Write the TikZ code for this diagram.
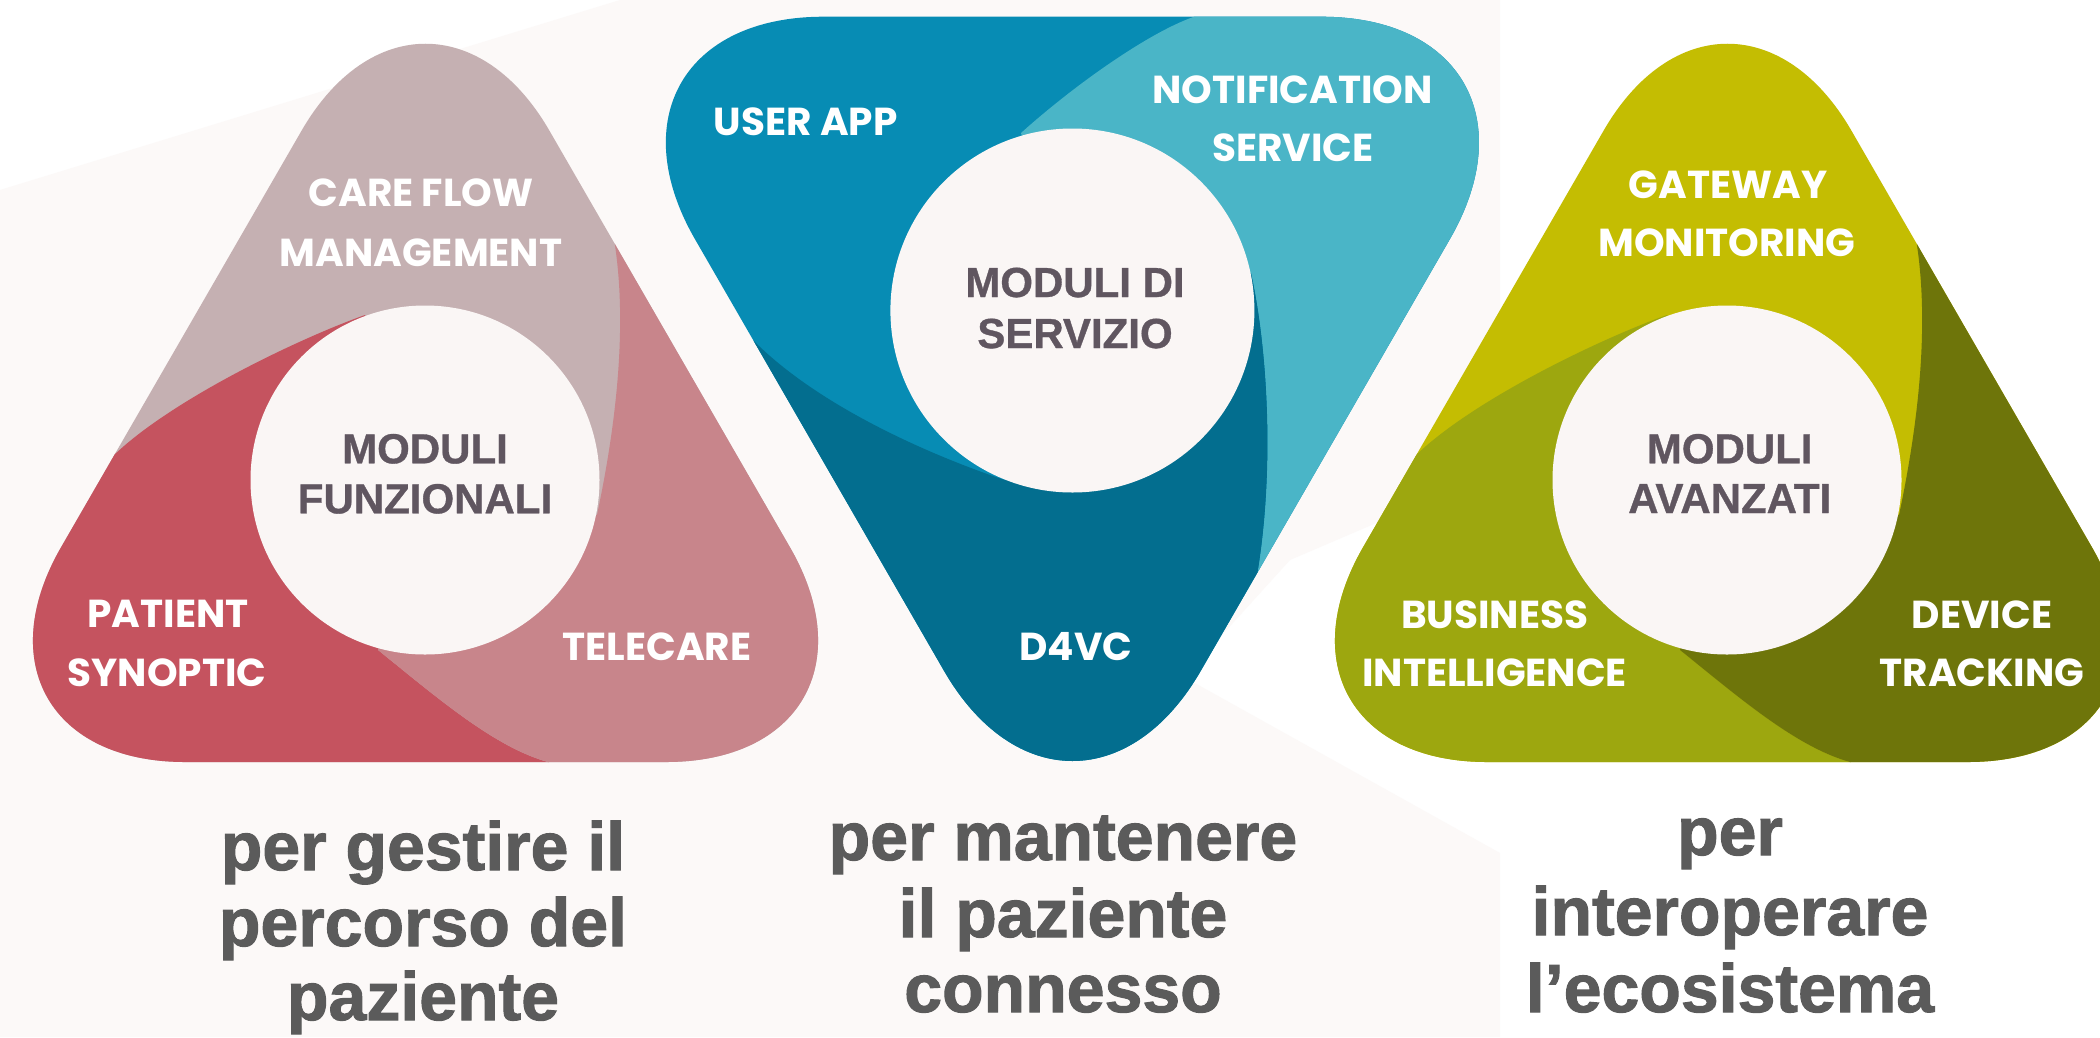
\documentclass[tikz,border=0pt]{standalone}
\usepackage{fontspec}
\setmainfont{Liberation Sans}
\newfontfamily\popfont{Poppins}
\newfontfamily\subfont{Liberation Sans Bold}[FakeBold=1.5]
\newfontfamily\ctrfont{Liberation Sans Bold}[FakeBold=0.8]
\usetikzlibrary{calc}
\definecolor{cfgrey}{HTML}{C5B0B2}
\definecolor{cfred}{HTML}{C5535F}
\definecolor{cfpink}{HTML}{C8858B}
\definecolor{bluea}{HTML}{078CB4}
\definecolor{blueb}{HTML}{4AB5C7}
\definecolor{bluec}{HTML}{036E8F}
\definecolor{olivea}{HTML}{C4BD02}
\definecolor{oliveb}{HTML}{9DA70F}
\definecolor{olivec}{HTML}{6E750A}
\definecolor{circfill}{HTML}{FAF6F5}
\definecolor{bgtint}{HTML}{FCF9F8}
\definecolor{ctrtext}{HTML}{605660}
\definecolor{subtext}{HTML}{5B5B5B}
\tikzset{
  rtri/.style n args={5}{insert path={($(#1)!#4!(#2)$) -- ($(#2)!#4!(#1)$)
     .. controls ($(#2)!#5!(#1)$) and ($(#2)!#5!(#3)$) .. ($(#2)!#4!(#3)$)
     -- ($(#3)!#4!(#2)$)
     .. controls ($(#3)!#5!(#2)$) and ($(#3)!#5!(#1)$) .. ($(#3)!#4!(#1)$)
     -- ($(#1)!#4!(#3)$)
     .. controls ($(#1)!#5!(#3)$) and ($(#1)!#5!(#2)$) .. ($(#1)!#4!(#2)$) -- cycle}},
  lab/.style={text=white, font=\popfont\bfseries\fontsize{39}{39}\selectfont, anchor=base, inner sep=0pt},
  ctr/.style={text=ctrtext, font=\ctrfont\fontsize{42}{42}\selectfont, anchor=base, inner sep=0pt},
  sub/.style={text=subtext, font=\subfont\fontsize{68}{68}\selectfont, anchor=base, inner sep=0pt},
}
\newcommand{\swirlshape}[4]{%
  \begin{scope}[xshift=#1]
    \coordinate (A) at (425.5,-84);
    \coordinate (B) at (-62.9,762);
    \coordinate (C) at (913.9,762);
    \begin{scope}
      \clip[rtri={A}{B}{C}{248pt}{114pt}];
      \fill[#2] (-200,-200) rectangle (1000,1000);
      \fill[#3] (425,480) -- (365,315) .. controls (300,338) and (170,400) .. (112,457)
        -- (-100,457) -- (-100,900) -- (556,900) -- (556,764)
        .. controls (500,752) and (440,700) .. (378,650) -- cycle;
      \fill[#4] (425,480) -- (597,515) .. controls (615,430) and (630,320) .. (612,228)
        -- (900,228) -- (900,900) -- (556,900) -- (556,764)
        .. controls (500,752) and (440,700) .. (378,650) -- cycle;
    \end{scope}
    \fill[circfill] (425,480) circle[radius=174.5];
  \end{scope}}
\begin{document}
\begin{tikzpicture}[x=1pt,y=-1pt]
\useasboundingbox (0,0) rectangle (2100,1037);
\fill[white] (0,0) rectangle (2100,1037);
% faint background tint
\fill[bgtint] (0,190) -- (620,0) -- (1500,0) -- (1500,470) -- (1290,560) -- (1184,677)
  -- (1500,853) -- (1500,1037) -- (0,1037) -- cycle;
% left shape
\swirlshape{0pt}{cfgrey}{cfred}{cfpink}
% middle shape
\coordinate (TL) at (566.6,16.7);
\coordinate (TR) at (1578.2,16.7);
\coordinate (BM) at (1072.4,893.3);
\begin{scope}
  \clip[rtri={TL}{TR}{BM}{257pt}{118pt}];
  \fill[bluea] (400,-100) rectangle (1700,1000);
  \fill[blueb] (1072.4,310.5) -- (1021,133) .. controls (1080,80) and (1160,25) .. (1203,14)
    -- (1203,-50) -- (1700,-50) -- (1700,592) -- (1254,592)
    .. controls (1276,480) and (1268,350) .. (1251,273) -- cycle;
  \fill[bluec] (1072.4,310.5) -- (1251,273) .. controls (1268,350) and (1276,480) .. (1254,592)
    -- (1700,592) -- (1700,1000) -- (400,1000) -- (400,337) -- (750,337)
    .. controls (815,405) and (930,455) .. (1004.5,480) -- cycle;
\end{scope}
\fill[circfill] (1072.4,310.5) circle[radius=182];
% right shape
\swirlshape{1302pt}{olivea}{oliveb}{olivec}
% labels left
\node[lab] (cf1) at (421,206.7) {CARE FLOW};
\node[lab] (cf2) at (421,266.7) {MANAGEMENT};
\node[lab] (ps1) at (168,627.7) {PATIENT};
\node[lab] (ps2) at (167,686) {SYNOPTIC};
\node[lab] (tc) at (657,660) {TELECARE};
\node[ctr] (mf1) at (425,463.3) {MODULI};
\node[ctr] (mf2) at (425,513.3) {FUNZIONALI};
% labels middle
\node[lab] (ua) at (805.6,135.5) {USER APP};
\node[lab] (ns1) at (1292.7,103.3) {NOTIFICATION};
\node[lab] (ns2) at (1292.7,161) {SERVICE};
\node[ctr] (ms1) at (1075,297) {MODULI DI};
\node[ctr] (ms2) at (1075,348) {SERVIZIO};
\node[lab] (dv) at (1076,660) {D4VC};
% labels right
\node[lab] (gm1) at (1728,198) {GATEWAY};
\node[lab] (gm2) at (1727,256) {MONITORING};
\node[ctr] (ma1) at (1729.7,463.3) {MODULI};
\node[ctr] (ma2) at (1729.7,513) {AVANZATI};
\node[lab] (bi1) at (1494.7,628) {BUSINESS};
\node[lab] (bi2) at (1494.7,686.7) {INTELLIGENCE};
\node[lab] (dt1) at (1982,628) {DEVICE};
\node[lab] (dt2) at (1982,686.7) {TRACKING};
% bottom texts
\node[sub] (l1) at (423,870) {per gestire il};
\node[sub] (l2) at (423,946) {percorso del};
\node[sub] (l3) at (423,1020) {paziente};
\node[sub] (m1) at (1063,860) {per mantenere};
\node[sub] (m2) at (1063,937) {il paziente};
\node[sub] (m3) at (1063,1012) {connesso};
\node[sub] (r1) at (1730,855) {per};
\node[sub] (r2) at (1730,935) {interoperare};
\node[sub] (r3) at (1730,1012) {l’ecosistema};
\end{tikzpicture}
\end{document}
